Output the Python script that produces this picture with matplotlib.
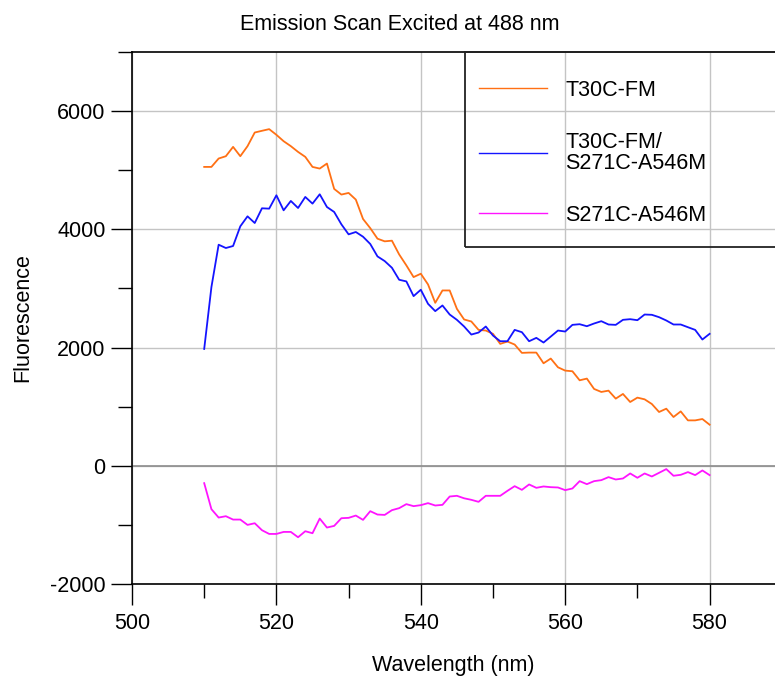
import matplotlib
matplotlib.use("Agg")
import matplotlib.pyplot as plt
from matplotlib.patches import Rectangle
from matplotlib.ticker import MultipleLocator
import numpy as np

plt.rcParams['font.family'] = ['Liberation Sans', 'DejaVu Sans']
plt.rcParams['axes.unicode_minus'] = False

# emission wavelengths, 1 nm steps
wavelength = np.arange(510, 581)

t30c_fm = [5056, 5056, 5198, 5237, 5395, 5237, 5407, 5638, 5667, 5695,
           5599, 5491, 5407, 5310, 5226, 5056, 5028, 5113, 4684, 4588,
           4616, 4503, 4175, 4020, 3842, 3797, 3808, 3576, 3390, 3192,
           3249, 3068, 2757, 2966, 2966, 2655, 2475, 2441, 2299, 2288,
           2232, 2062, 2102, 2051, 1910, 1915, 1915, 1734, 1814, 1666,
           1610, 1599, 1446, 1475, 1300, 1249, 1271, 1136, 1215, 1079,
           1153, 1124, 1045, 910, 966, 825, 920, 768, 768, 791,
           695]

t30c_s271c = [1977, 3023, 3740, 3684, 3718, 4051, 4220, 4107, 4356, 4350,
              4576, 4322, 4480, 4361, 4548, 4435, 4593, 4378, 4294, 4085,
              3915, 3955, 3875, 3752, 3542, 3463, 3350, 3147, 3119, 2870,
              2978, 2740, 2616, 2712, 2559, 2469, 2356, 2220, 2254, 2356,
              2203, 2107, 2107, 2299, 2260, 2107, 2164, 2085, 2186, 2288,
              2271, 2384, 2395, 2361, 2407, 2446, 2390, 2384, 2469, 2480,
              2463, 2559, 2554, 2514, 2458, 2390, 2390, 2344, 2299, 2136,
              2232]

s271c_a546m = [-294, -734, -876, -853, -910, -910, -1000, -972, -1090, -1153,
               -1153, -1119, -1119, -1209, -1107, -1141, -893, -1045, -1017, -887,
               -881, -842, -915, -768, -825, -831, -751, -717, -649, -683,
               -666, -632, -672, -661, -520, -508, -550, -576, -610, -508,
               -508, -508, -424, -345, -407, -316, -373, -350, -362, -367,
               -412, -384, -260, -311, -260, -243, -192, -232, -215, -130,
               -203, -130, -181, -119, -56, -169, -153, -107, -158, -79,
               -158]

labels = ['T30C-FM', 'T30C-FM/\nS271C-A546M', 'S271C-A546M']
colors = ['#ff7014', '#1414ff', '#ff14ff']

FS = 15.5
W, H = 775, 679
fig = plt.figure(figsize=(W / 100, H / 100), dpi=100)
ax = fig.add_axes([132 / W, 1 - 584 / H, (W - 132) / W, (584 - 52) / H])

lines = []
for ys, c, lab in zip([t30c_fm, t30c_s271c, s271c_a546m], colors, labels):
    ln, = ax.plot(wavelength, ys, color=c, lw=1.3, label=lab, zorder=3)
    lines.append(ln)

ax.set_xlim(500, 500 + (W - 132) / 7.22)
ax.set_ylim(-2000, 7000)
ax.xaxis.set_major_locator(MultipleLocator(20))
ax.xaxis.set_minor_locator(MultipleLocator(10))
ax.yaxis.set_major_locator(MultipleLocator(2000))
ax.yaxis.set_minor_locator(MultipleLocator(1000))
ax.grid(True, which='major', color='#c4c4c4', lw=1.0, zorder=0)
ax.axhline(0, color='#8c8c8c', lw=1.2, zorder=1)
ax.set_axisbelow(True)

ax.spines['right'].set_visible(False)
for s in ['left', 'bottom', 'top']:
    ax.spines[s].set_linewidth(1.2)
ax.tick_params(which='major', length=15, width=1.0, labelsize=FS, direction='out')
ax.tick_params(which='minor', length=10, width=1.0, direction='out')
ax.tick_params(axis='x', which='major', pad=6)
ax.tick_params(axis='y', which='major', pad=4)
ax.tick_params(top=False, right=False, which='both')

ax.set_xlabel('Wavelength (nm)', fontsize=FS, labelpad=15)
ax.set_ylabel('Fluorescence', fontsize=FS, labelpad=12)
fig.text(400 / W, 1 - 25 / H, 'Emission Scan Excited at 488 nm',
         fontsize=FS, ha='center', va='center')

# legend box runs off the right edge
x0 = (465 - 132) / (W - 132)
y0 = (584 - 247) / (584 - 52)
ax.add_patch(Rectangle((x0, y0), 1.0, 1 - y0, transform=ax.transAxes,
                       fill=False, ec='#222222', lw=1.3, clip_on=False, zorder=5))
leg = ax.legend(handles=lines, loc='upper left',
                bbox_to_anchor=((479 - 132) / (W - 132), (584 - 80) / (584 - 52)),
                frameon=False, fontsize=FS, borderpad=0, borderaxespad=0,
                handlelength=3.16, handletextpad=0.84, labelspacing=1.42)
for h in leg.legend_handles:
    h.set_linewidth(1.0)
for t in leg.get_texts():
    t.set_linespacing(1.05)

fig.savefig('out.png', dpi=100)
